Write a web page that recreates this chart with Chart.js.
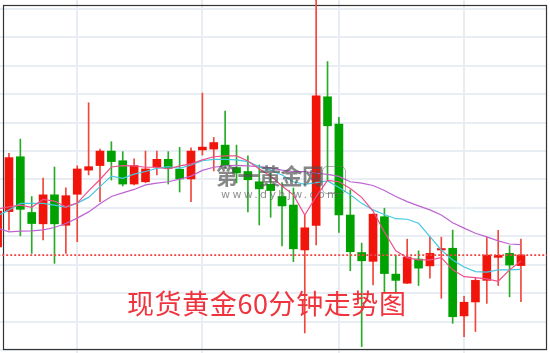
<!DOCTYPE html>
<html><head><meta charset="utf-8">
<script src="https://cdn.jsdelivr.net/npm/chart.js@4.4.0/dist/chart.umd.min.js"></script>
<style>
html,body{margin:0;padding:0;background:#fff;}
#wrap{position:relative;width:550px;height:353px;overflow:hidden;}
canvas{display:block;}
.ov{position:absolute;pointer-events:none;white-space:nowrap;font-family:"Noto Sans CJK SC","Noto Sans",sans-serif;}
#wm1{left:216px;top:162px;font-size:22px;font-weight:bold;line-height:25px;color:rgba(80,80,80,0.68);letter-spacing:-0.5px;}
#wm2{left:221px;top:189px;font-size:11px;line-height:12px;color:rgba(85,85,85,0.65);letter-spacing:2.4px;font-family:"DejaVu Sans",sans-serif;}
#wmbox{left:322px;top:166px;width:22px;height:26px;border:1.5px solid rgba(110,110,110,0.55);border-radius:5px;}
#title{left:127px;top:288px;font-size:27px;line-height:29px;color:rgb(240,52,62);letter-spacing:0.6px;}
</style></head><body>
<div id="wrap">
<canvas id="c" width="550" height="353"></canvas>
<div class="ov" id="wm1">第一黄金网</div>
<div class="ov" id="wm2">www.dyhjw.com</div>
<div class="ov" id="wmbox"></div>
<div class="ov" id="title">现货黄金60分钟走势图</div>
</div>
<script>
// 60-minute spot gold candles (price units)
const opens  = [1303.63,1304.87,1306.80,1304.84,1304.44,1305.46,1304.39,1305.48,1306.33,1306.49,1307.00,1306.66,1305.84,1305.92,1306.44,1306.71,1306.36,1306.02,1307.04,1307.07,1307.21,1306.42,1306.28,1305.92,1305.83,1305.40,1305.10,1303.52,1304.38,1308.91,1307.95,1304.75,1303.43,1303.12,1304.69,1302.67,1302.35,1303.20,1302.96,1303.52,1303.58,1301.20,1301.69,1302.45,1303.26,1303.40,1302.97];
const highs  = [1305.10,1306.92,1307.42,1305.40,1306.05,1306.44,1305.71,1306.48,1308.70,1307.07,1307.33,1306.98,1306.73,1307.00,1307.00,1306.98,1307.13,1307.11,1309.04,1307.48,1308.41,1307.21,1306.83,1306.51,1306.22,1305.89,1305.70,1304.75,1312.49,1310.15,1308.19,1305.63,1303.76,1304.79,1304.99,1303.33,1303.90,1303.49,1303.99,1303.97,1304.22,1301.89,1302.52,1303.97,1304.21,1303.67,1303.90];
const lows   = [1303.52,1304.22,1304.02,1303.40,1303.87,1303.05,1303.40,1303.81,1306.16,1305.22,1305.98,1305.77,1305.81,1305.89,1306.16,1305.84,1305.56,1305.22,1306.86,1306.30,1306.41,1305.88,1304.86,1304.40,1304.67,1303.66,1303.11,1300.60,1303.70,1305.98,1304.14,1302.79,1300.12,1302.29,1302.00,1302.00,1302.34,1302.27,1302.53,1301.82,1300.94,1300.47,1300.65,1301.64,1302.27,1301.87,1301.70];
const closes = [1304.89,1306.77,1304.95,1304.45,1305.46,1304.44,1305.43,1306.37,1306.45,1307.00,1306.63,1305.84,1306.49,1306.37,1306.71,1306.39,1306.02,1307.00,1307.14,1307.30,1306.48,1306.23,1305.99,1305.67,1305.61,1305.07,1303.56,1304.30,1308.94,1307.89,1304.75,1303.46,1303.14,1304.78,1302.69,1302.45,1303.27,1302.88,1303.40,1303.57,1301.17,1301.68,1302.45,1303.34,1303.33,1302.99,1303.34];
// moving averages
const ma5  = [1304.96,1305.04,1305.10,1305.02,1305.30,1305.24,1305.04,1305.17,1305.60,1306.00,1306.44,1306.49,1306.48,1306.43,1306.43,1306.37,1306.48,1306.55,1306.69,1306.80,1306.83,1306.83,1306.65,1306.37,1306.12,1305.77,1305.46,1304.75,1305.40,1305.97,1305.92,1305.68,1305.37,1304.89,1304.15,1303.49,1303.25,1303.17,1303.17,1303.25,1302.82,1302.58,1302.55,1302.50,1302.42,1302.82,1303.13];
const ma10 = [1304.72,1304.93,1305.16,1305.16,1305.16,1305.10,1305.03,1305.17,1305.37,1305.75,1306.12,1306.04,1306.19,1306.28,1306.39,1306.45,1306.39,1306.51,1306.66,1306.71,1306.71,1306.69,1306.63,1306.45,1306.33,1306.16,1305.92,1305.83,1305.89,1305.95,1305.72,1305.46,1305.16,1304.93,1304.77,1304.62,1304.60,1304.46,1303.99,1303.52,1303.17,1302.92,1302.76,1302.74,1302.82,1302.82,1302.84];
const ma20 = [1304.29,1304.16,1304.18,1304.19,1304.23,1304.31,1304.45,1304.64,1304.86,1305.15,1305.40,1305.53,1305.65,1305.81,1305.87,1305.92,1306.01,1306.12,1306.32,1306.43,1306.48,1306.50,1306.48,1306.45,1306.41,1306.33,1306.28,1306.28,1306.22,1306.18,1306.11,1305.92,1305.87,1305.79,1305.61,1305.40,1305.22,1305.07,1304.93,1304.75,1304.48,1304.29,1304.11,1303.98,1303.84,1303.73,1303.71];
const refPrice = 1303.34;
const sessionBreaks = [7, 18, 30, 41];

const UP = 'rgb(240,20,10)', DOWN = 'rgb(0,162,0)';
const UPW = 'rgb(242,70,60)', DOWNW = 'rgb(40,172,40)';
const isUp = closes.map((c,i)=>c>=opens[i]);
const X_MIN = 0.475, X_MAX = 48.29;

const framePlugin = {
  id:'frame',
  beforeDatasetsDraw(chart){
    const {ctx, chartArea:a, scales:{x}} = chart;
    ctx.save();
    ctx.strokeStyle = '#e7edf2'; ctx.lineWidth = 2;
    sessionBreaks.forEach(b=>{
      const px = Math.round(x.getPixelForValue(b));
      ctx.beginPath(); ctx.moveTo(px, 0); ctx.lineTo(px, chart.height); ctx.stroke();
    });
    ctx.strokeStyle = '#333'; ctx.lineWidth = 1.2;
    ctx.strokeRect(a.left+0.5, a.top+0.5, a.right-a.left-1, a.bottom-a.top-1);
    ctx.restore();
  }
};

new Chart(document.getElementById('c'), {
  type:'bar',
  data:{
    datasets:[
      {type:'line', data:[{x:-1,y:refPrice},{x:X_MAX,y:refPrice}], borderColor:'rgb(240,70,70)', borderWidth:1.6, borderDash:[2,2], pointRadius:0, clip:false, order:0},
      {type:'line', data:ma5.map((v,i)=>({x:i,y:v})), borderColor:'rgb(238,80,140)', borderWidth:1.2, pointRadius:0, tension:0, clip:false, order:0},
      {type:'line', data:ma10.map((v,i)=>({x:i,y:v})), borderColor:'rgb(70,200,225)', borderWidth:1.2, pointRadius:0, tension:0, clip:false, order:0},
      {type:'line', data:ma20.map((v,i)=>({x:i,y:v})), borderColor:'rgb(190,100,210)', borderWidth:1.2, pointRadius:0, tension:0, clip:false, order:0},
      {data:closes.map((c,i)=>({x:i,y:[opens[i],c]})), backgroundColor:isUp.map(u=>u?UP:DOWN), borderWidth:0, barThickness:8, grouped:false, clip:false, order:1},
      {data:highs.map((h,i)=>({x:i,y:[lows[i],h]})), backgroundColor:isUp.map(u=>u?UPW:DOWNW), borderWidth:0, barThickness:1, grouped:false, clip:false, order:2}
    ]
  },
  options:{
    responsive:false, animation:false, devicePixelRatio:1,
    layout:{padding:{left:0,top:5,right:3,bottom:3}},
    plugins:{legend:{display:false}, tooltip:{enabled:false}, title:{display:false}},
    scales:{
      x:{type:'linear', min:X_MIN, max:X_MAX, offset:false, display:false},
      y:{type:'linear', min:1300, max:1312.14,
         ticks:{display:false, stepSize:1, includeBounds:false},
         grid:{color:'#e8eef3', lineWidth:2, drawTicks:true, tickLength:3, tickColor:'#e8eef3'},
         border:{display:false}}
    }
  },
  plugins:[framePlugin]
});
</script>
</body></html>
